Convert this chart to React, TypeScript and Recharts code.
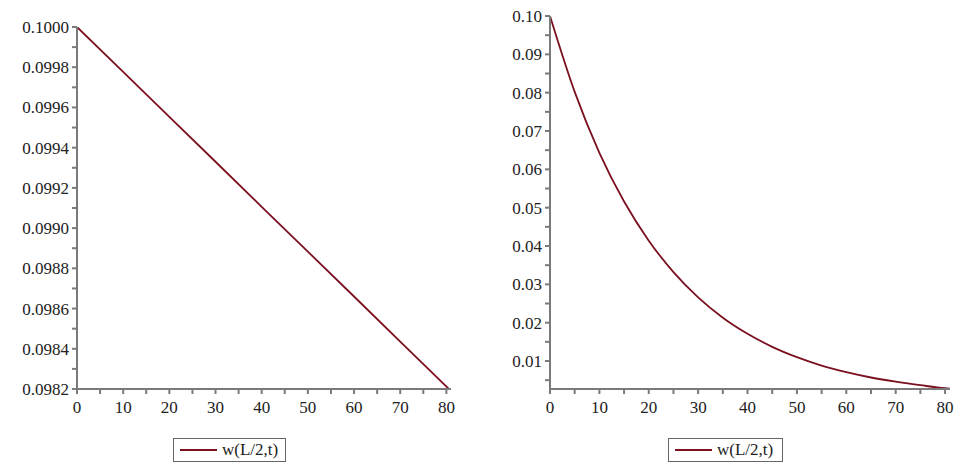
import { LineChart, Line, XAxis, YAxis } from 'recharts';

// w(L/2,t) (nearly linear drop)
const leftT = [0, 10, 20, 30, 40, 50, 60, 70, 81];
const leftW = [0.1, 0.099777, 0.099553, 0.09933, 0.099106, 0.098883, 0.09866, 0.098436, 0.09819];

// w(L/2,t) (decaying curve)
const rightT = [0, 5, 10, 15, 20, 25, 30, 35, 40, 45, 50, 55, 60, 65, 70, 75, 80, 81];
const rightW = [
  0.1, 0.0802, 0.0643, 0.0516, 0.0414, 0.0332, 0.0266, 0.0213, 0.0171, 0.0137, 0.011, 0.0088,
  0.0071, 0.0057, 0.0046, 0.0037, 0.0029, 0.0028,
];

const xTicks = [0, 5, 10, 15, 20, 25, 30, 35, 40, 45, 50, 55, 60, 65, 70, 75, 80];
const leftYTicks = [
  0.0982, 0.0983, 0.0984, 0.0985, 0.0986, 0.0987, 0.0988, 0.0989, 0.099, 0.0991, 0.0992, 0.0993,
  0.0994, 0.0995, 0.0996, 0.0997, 0.0998, 0.0999, 0.1,
];
const rightYTicks = [
  0.005, 0.01, 0.015, 0.02, 0.025, 0.03, 0.035, 0.04, 0.045, 0.05, 0.055, 0.06, 0.065, 0.07, 0.075,
  0.08, 0.085, 0.09, 0.095, 0.1,
];
const seriesName = 'w(L/2,t)';

const LINE = '#7a1020';
const AXIS = '#7a7a7a';
const FONT = 'Liberation Serif, Times New Roman, serif';
const tickStyle = { fill: '#222', fontSize: 17, fontFamily: FONT, style: { fontFamily: FONT } };

const leftData = leftT.map((t, i) => ({ t, w: leftW[i] }));
const rightData = rightT.map((t, i) => ({ t, w: rightW[i] }));

const fmtX = (v: number) => (v % 10 === 0 ? String(v) : '');
const fmtLeftY = (v: number) => (Math.round(v * 10000) % 2 === 0 ? v.toFixed(4) : '');
const fmtRightY = (v: number) => (Math.round(v * 1000) % 10 === 0 ? v.toFixed(2) : '');

function LegendBox({ left, width }: { left: number; width: number }) {
  return (
    <div
      style={{
        position: 'absolute',
        left,
        top: 438,
        width,
        height: 24,
        border: '1.5px solid #666',
        boxSizing: 'border-box',
        display: 'flex',
        alignItems: 'center',
        background: '#fff',
        fontFamily: FONT,
        fontSize: 17,
        color: '#222',
      }}
    >
      <div style={{ width: 37, height: 2, background: LINE, marginLeft: 6, marginRight: 5 }} />
      <span>{seriesName}</span>
    </div>
  );
}

export default function App() {
  return (
    <div
      style={{
        position: 'absolute',
        left: 0,
        top: 0,
        width: 963,
        height: 472,
        background: '#fff',
        fontFamily: FONT,
      }}
    >
      <div style={{ position: 'absolute', left: 0, top: 0 }}>
        <LineChart width={480} height={472} data={leftData} margin={{ top: 27, right: 29, bottom: 53, left: 0 }}>
          <XAxis
            dataKey='t'
            type='number'
            domain={[0, 81]}
            ticks={xTicks}
            tickFormatter={fmtX}
            interval={0}
            stroke={AXIS}
            strokeWidth={2}
            tickSize={5}
            tickMargin={7}
            tick={tickStyle}
            height={30}
          />
          <YAxis
            type='number'
            domain={[0.0982, 0.1]}
            ticks={leftYTicks}
            tickFormatter={fmtLeftY}
            interval={0}
            stroke={AXIS}
            strokeWidth={2}
            tickSize={5}
            tickMargin={3}
            tick={tickStyle}
            width={77}
            allowDataOverflow
          />
          <Line type='linear' dataKey='w' stroke={LINE} strokeWidth={1.8} dot={false} isAnimationActive={false} />
        </LineChart>
      </div>
      <div style={{ position: 'absolute', left: 480, top: 0 }}>
        <LineChart width={483} height={472} data={rightData} margin={{ top: 16, right: 13, bottom: 53, left: 0 }}>
          <XAxis
            dataKey='t'
            type='number'
            domain={[0, 81]}
            ticks={xTicks}
            tickFormatter={fmtX}
            interval={0}
            stroke={AXIS}
            strokeWidth={2}
            tickSize={5}
            tickMargin={7}
            tick={tickStyle}
            height={30}
          />
          <YAxis
            type='number'
            domain={[0.0027, 0.1]}
            ticks={rightYTicks}
            tickFormatter={fmtRightY}
            interval={0}
            stroke={AXIS}
            strokeWidth={2}
            tickSize={5}
            tickMargin={3}
            tick={tickStyle}
            width={70}
            allowDataOverflow
          />
          <Line type='monotone' dataKey='w' stroke={LINE} strokeWidth={1.8} dot={false} isAnimationActive={false} />
        </LineChart>
      </div>
      <LegendBox left={173} width={113} />
      <LegendBox left={668} width={115} />
    </div>
  );
}
